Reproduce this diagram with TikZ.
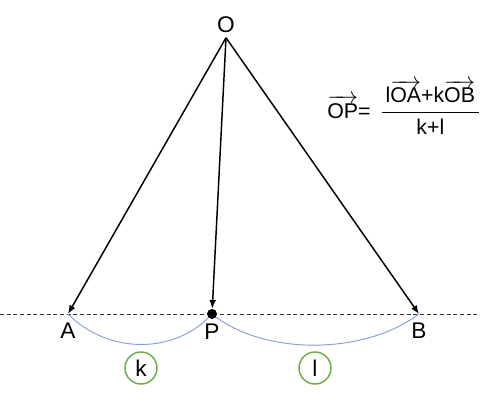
\documentclass[tikz,border=0pt]{standalone}
\usepackage{amsmath}
\usepackage{fontspec}
\setmainfont{Liberation Sans}
\usetikzlibrary{arrows.meta,positioning}
\definecolor{arcblue}{RGB}{130,160,215}
\definecolor{ringgreen}{RGB}{112,173,71}
\tikzstyle{every node}=[font=\fontsize{17}{20}\selectfont]
\tikzstyle{vec}=[-{Latex[length=6.5pt,width=5pt]}, line width=1.1pt]
\tikzstyle{dot}=[circle, fill=black, inner sep=0pt, minimum size=7.5pt]
\tikzstyle{ring}=[circle, draw=ringgreen, line width=1.1pt, minimum size=24pt, inner sep=0pt]

\begin{document}
\begin{tikzpicture}[x=0.75pt,y=-0.75pt]
\useasboundingbox (0,0) rectangle (500,400);

\node (O) at (226,25) {O};

\coordinate [label={[label distance=3pt]below:A}] (A) at (68,314);
\coordinate [label={[label distance=3pt]below:B}] (B) at (419,314);
\coordinate (L) at (0,314);
\coordinate (R) at (478,314);

\draw [dash pattern=on 3pt off 2pt, gray!40!black] (L) -- (R);
\node [dot, label={[label distance=0pt]below:P}] (P) at (212,314) {};

\draw [vec] (O.south) -- (A);
\draw [vec] (O.south) -- (P);
\draw [vec] (O.south) -- (B);

\draw [arcblue, line width=0.7pt] (A) .. controls +(40,40) and +(-40,40) .. (P);
\draw [arcblue, line width=0.7pt] (P) .. controls +(55,41) and +(-55,41) .. (B);

\node [ring] (k) at (141,368) {k};
\node [ring] (l) at (315,368) {l};

\node [font=\fontsize{16}{19}\selectfont] (F) at (404,107) {$\overrightarrow{\text{OP}}\text{=}\hspace{7pt}\dfrac{\hspace{3pt}\text{l}\overrightarrow{\text{OA}}\text{+k}\overrightarrow{\text{OB}}\hspace{3pt}}{\text{k+l}}$};
\end{tikzpicture}
\end{document}
